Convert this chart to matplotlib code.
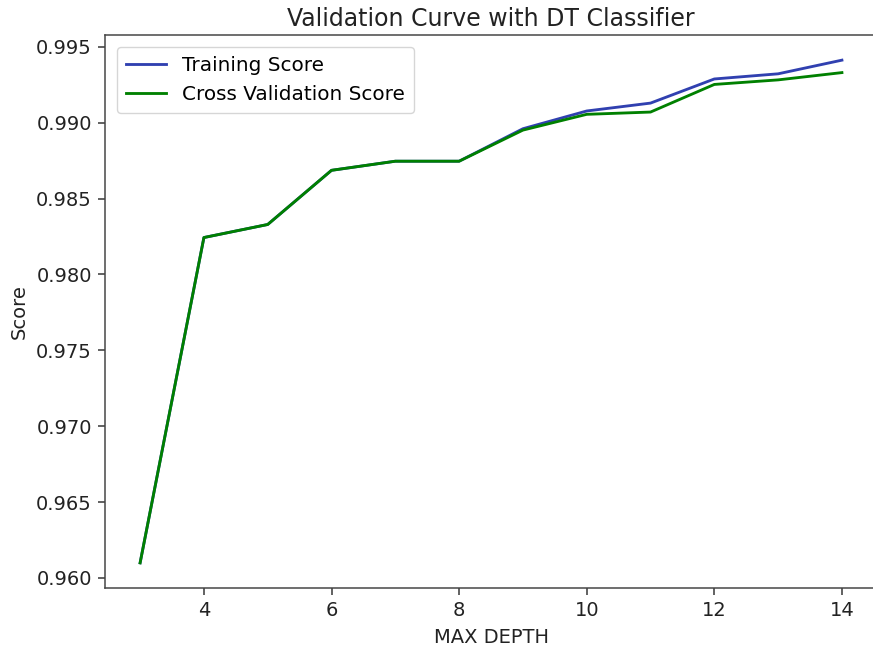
import matplotlib
matplotlib.use("Agg")
import matplotlib.pyplot as plt

max_depth = [3, 4, 5, 6, 7, 8, 9, 10, 11, 12, 13, 14]
train_score = [0.96099, 0.98243, 0.98329, 0.98686, 0.98746, 0.98746,
               0.98960, 0.99077, 0.99129, 0.99288, 0.99322, 0.99412]
cv_score = [0.96099, 0.98243, 0.98329, 0.98686, 0.98746, 0.98746,
            0.98951, 0.99055, 0.99070, 0.99252, 0.99282, 0.99330]

s = 1.36
fig = plt.figure(figsize=(8.73, 6.51), dpi=100)
ax = fig.add_axes([0.1203, 0.0968, 0.8843, 0.8494])

ax.plot(max_depth, train_score, color="#3040b0", lw=1.5 * s, label="Training Score")
ax.plot(max_depth, cv_score, color="green", lw=1.5 * s, label="Cross Validation Score")

ax.set_title("Validation Curve with DT Classifier", fontsize=12 * 1.42, pad=5 * s, color="#222222")
ax.set_xlabel("MAX DEPTH", fontsize=10 * 1.40, labelpad=4 * s, color="#222222")
ax.set_ylabel("Score", fontsize=10 * 1.40, labelpad=4 * s, color="#222222")
ax.tick_params(labelsize=10 * 1.40, length=3.5 * s, width=0.8 * s, pad=3.5 * s, colors="#333333", labelcolor="#222222")
for sp in ax.spines.values():
    sp.set_linewidth(0.8 * s)
    sp.set_color("#444444")
ax.set_yticks([0.960, 0.965, 0.970, 0.975, 0.980, 0.985, 0.990, 0.995])
ax.set_xticks([4, 6, 8, 10, 12, 14])
ax.legend(loc="upper left", fontsize=10 * 1.44, framealpha=0.8, borderpad=0.45,
          handlelength=2.0, borderaxespad=0.6)

fig.savefig("out.png", dpi=100)
